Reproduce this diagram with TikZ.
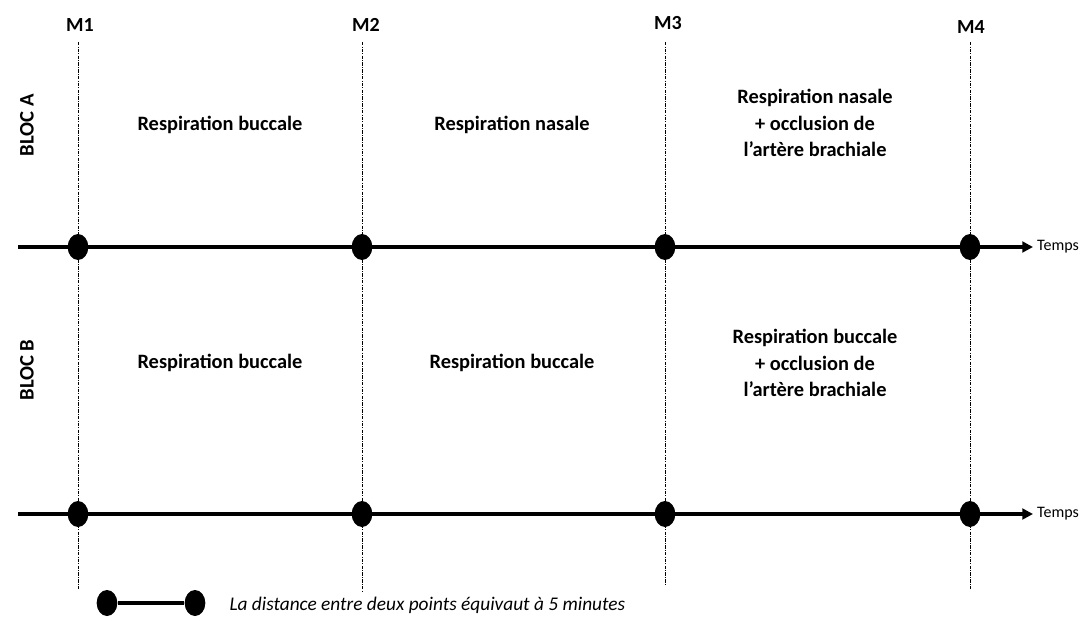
\documentclass[tikz,border=0pt]{standalone}
\usepackage{fontspec}
\setmainfont{Carlito}
\usetikzlibrary{shapes.geometric,arrows.meta}

\tikzset{every picture/.style={line width=0.75pt}}
\tikzset{
  dot/.style={ellipse, fill=black, draw=none, inner sep=0pt, minimum width=15.5pt, minimum height=19.5pt},
  guide/.style={line width=0.6pt, dash pattern=on 2.5pt off 1pt on 0.6pt off 1pt},
  axis/.style={line width=2.6pt},
  mtitle/.style={inner sep=0.75pt, font=\fontsize{15}{18}\selectfont\bfseries},
  bloc/.style={inner sep=0.75pt, rotate=90, font=\fontsize{15.5}{18}\selectfont\bfseries},
  phase/.style={inner sep=0.75pt, align=center, font=\fontsize{15.3}{20}\selectfont\bfseries},
  temps/.style={inner sep=0.75pt, anchor=west, font=\fontsize{12}{14}\selectfont},
  note/.style={inner sep=0.75pt, anchor=west, font=\fontsize{14.5}{17}\selectfont\itshape}
}

\begin{document}
\begin{tikzpicture}[x=0.75pt,y=0.75pt,yscale=-1,xscale=1]
%set diagram size to 1090 x 621
\path[use as bounding box] (0,0) rectangle (1090,621);

%Marker lines and points
\foreach \n/\x/\lx/\ly/\ey in {1/78/80/25/590,2/362/366/25/592,3/665/668/23/584,4/970/971/27/590} {
  \node[mtitle] (m\n) at (\lx,\ly) {M\n};
  \coordinate (top\n) at (\x,42);
  \coordinate (bot\n) at (\x,\ey);
  \draw[guide] (top\n) -- (bot\n);
  \node[dot] (a\n) at (\x,247) {};
  \node[dot] (b\n) at (\x,514) {};
}

%Time axes
\coordinate (as) at (18,247);
\coordinate (ae) at (1033,247);
\draw[axis, -{Triangle[length=8pt,width=8pt]}] (as) -- (ae);
\node[temps] (ta) at ([xshift=2pt]ae) {Temps};
\coordinate (bs) at (18,514);
\coordinate (be) at (1033,514);
\draw[axis, -{Triangle[length=8pt,width=8pt]}] (bs) -- (be);
\node[temps] (tb) at ([xshift=2pt]be) {Temps};

% Text Node
\node[bloc] (blocA) at (27,125) {BLOC A};
\node[bloc] (blocB) at (27,370) {BLOC B};

% Text Node
\node[phase] (pa1) at (220,125) {Respiration buccale};
\node[phase] (pa2) at (512,125) {Respiration nasale};
\node[phase] (pa3) at (815,123) {Respiration nasale\\+ occlusion de\\l'artère brachiale};
\node[phase] (pb1) at (220,363) {Respiration buccale};
\node[phase] (pb2) at (512,363) {Respiration buccale};
\node[phase] (pb3) at (815,363) {Respiration buccale\\+ occlusion de\\l'artère brachiale};

%Legend
\node[dot] (k1) at (107,603) {};
\node[dot] (k2) at (195,603) {};
\draw[axis] (k1) -- (k2);
\node[note] (knote) at (228,605) {La distance entre deux points équivaut à 5 minutes};
\end{tikzpicture}
\end{document}
